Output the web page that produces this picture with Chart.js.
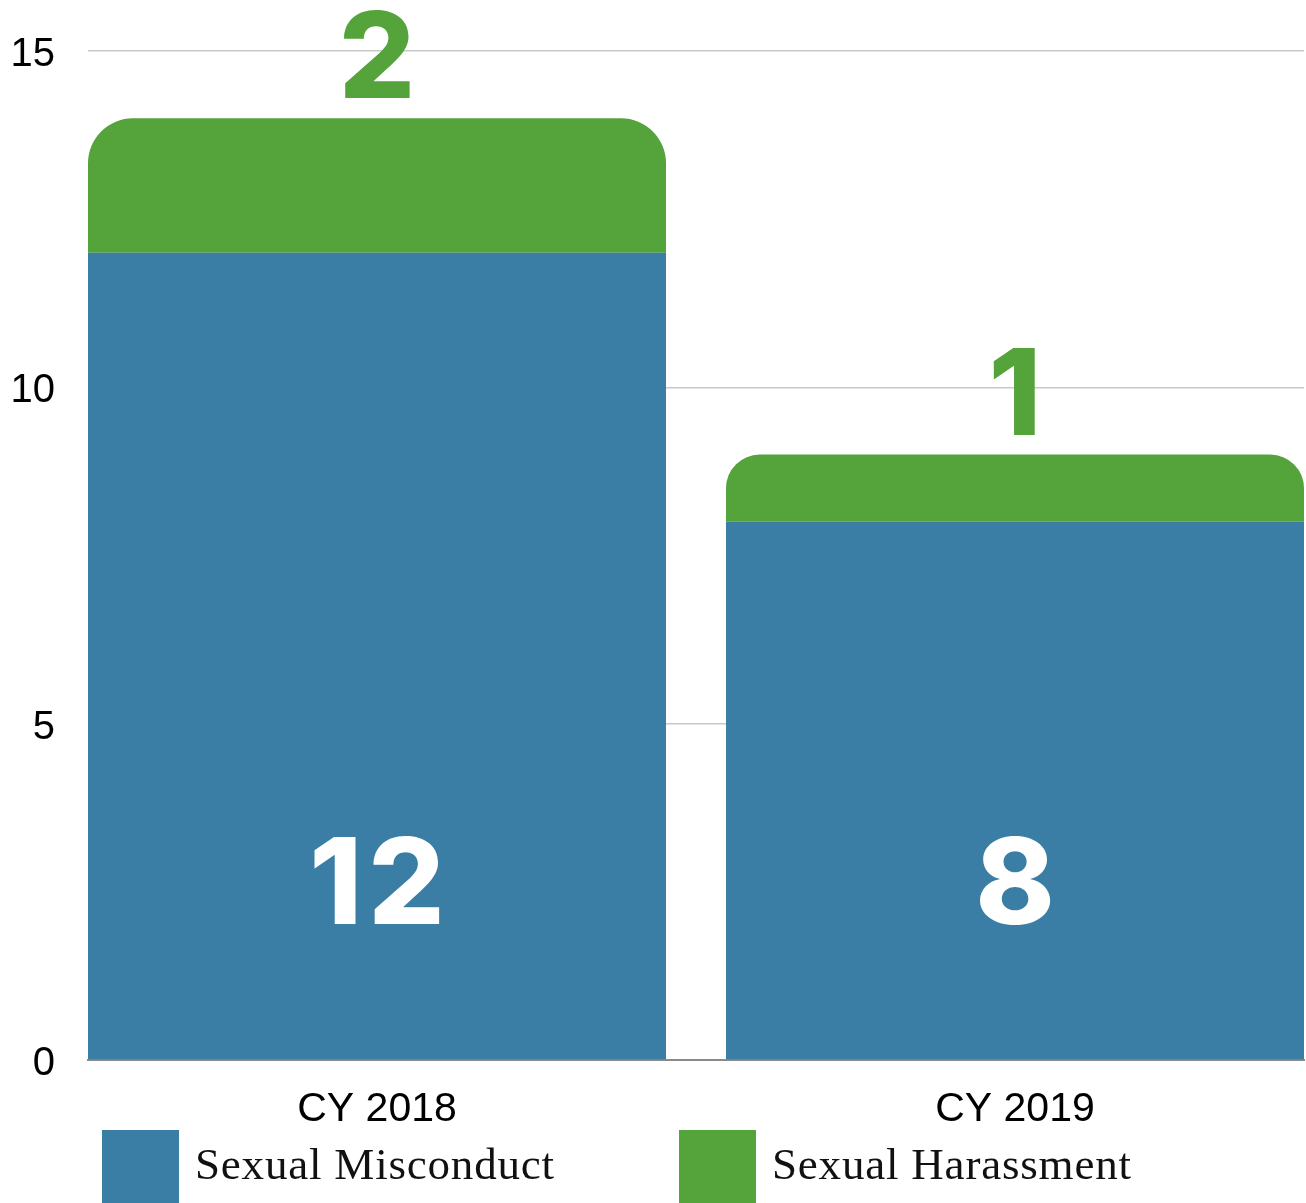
<!DOCTYPE html>
<html>
<head>
<meta charset="utf-8">
<script src="https://cdn.jsdelivr.net/npm/chart.js@4.4.0/dist/chart.umd.min.js"></script>
<style>
  html, body { margin: 0; padding: 0; background: #fff; }
  #wrap { position: relative; width: 1306px; height: 1203px; overflow: hidden; }
  #legend { position: absolute; left: 0; top: 1130px; width: 1306px; height: 80px; }
  .item { position: absolute; top: 0; height: 76px; }
  .box { position: absolute; left: 0; top: 0; width: 77px; height: 76px; }
  .lbl { position: absolute; left: 93px; top: 12px; white-space: nowrap; line-height: 1;
         font-family: "Liberation Serif", serif; font-size: 45px; letter-spacing: 0.8px; color: #111; }
</style>
</head>
<body>
<div id="wrap">
  <canvas id="myChart" width="1306" height="1203"></canvas>
  <div id="legend"></div>
</div>
<script>
const categories = ["CY 2018", "CY 2019"];
const misconduct = [12, 8];
const harassment = [2, 1];
const yTicks = [0, 5, 10, 15];

const blue = "#3b7ea5";
const green = "#54a33b";

// bar value labels
const valueLabels = {
  id: "valueLabels",
  afterDatasetsDraw(chart) {
    const ctx = chart.ctx;
    ctx.save();
    ctx.textAlign = "center";
    ctx.textBaseline = "alphabetic";
    ctx.font = "800 120px Inter, sans-serif";
    ctx.letterSpacing = "6px";
    const values = [misconduct, harassment];
    chart.data.datasets.forEach((ds, di) => {
      const meta = chart.getDatasetMeta(di);
      meta.data.forEach((bar, i) => {
        if (di === 0) {
          ctx.fillStyle = "#fff";
          ctx.fillText(values[di][i], bar.x + 3, bar.base - 135);
        } else {
          ctx.fillStyle = green;
          ctx.fillText(values[di][i], bar.x + 3, bar.y - 20);
        }
      });
    });
    ctx.restore();
  }
};

let ctx = document.getElementById("myChart");
let myChart = new Chart(ctx, {
  type: "bar",
  data: {
    datasets: [
      {
        label: "Sexual Misconduct",
        data: misconduct.map((v, i) => ({ x: i, y: v })),
        backgroundColor: blue,
        borderWidth: 0,
        categoryPercentage: 1,
        barPercentage: 0.906
      },
      {
        label: "Sexual Harassment",
        data: harassment.map((v, i) => ({ x: i, y: v })),
        backgroundColor: green,
        borderWidth: 0,
        borderSkipped: false,
        borderRadius: { topLeft: 45, topRight: 45, bottomLeft: 0, bottomRight: 0 },
        categoryPercentage: 1,
        barPercentage: 0.906
      }
    ]
  },
  options: {
    responsive: false,
    animation: false,
    layout: { padding: { top: 51, right: 2, left: 0, bottom: 0 } },
    plugins: { legend: { display: false }, tooltip: { enabled: false } },
    scales: {
      x: {
        type: "linear",
        stacked: true,
        offset: false,
        min: -0.453,
        max: 1.453,
        afterFit: (s) => { s.height = 143; },
        afterBuildTicks: (s) => { s.ticks = categories.map((c, i) => ({ value: i })); },
        grid: { display: false, drawTicks: false, offset: false },
        border: { color: "#8a8a8a", width: 2 },
        ticks: {
          padding: 25,
          color: "#000",
          font: { family: "Liberation Sans, Arial, sans-serif", size: 41 },
          callback: (v) => categories[v]
        }
      },
      y: {
        stacked: true,
        min: 0,
        max: 15,
        afterFit: (s) => { s.width = 88; },
        afterBuildTicks: (s) => { s.ticks = yTicks.map((v) => ({ value: v })); },
        grid: { color: "#c8c8c8", lineWidth: 1.5, drawTicks: false },
        border: { display: false },
        ticks: {
          padding: 33,
          labelOffset: 4,
          color: "#000",
          font: { family: "Liberation Sans, Arial, sans-serif", size: 40, lineHeight: 0.2 }
        }
      }
    }
  },
  plugins: [valueLabels]
});

// html legend from the datasets
const legendEl = document.getElementById("legend");
const legendX = [102, 679];
myChart.data.datasets.forEach((ds, i) => {
  const item = document.createElement("div");
  item.className = "item";
  item.style.left = legendX[i] + "px";
  item.innerHTML = '<div class="box" style="background:' + ds.backgroundColor + '"></div>' +
    '<div class="lbl">' + ds.label + '</div>';
  legendEl.appendChild(item);
});
</script>
</body>
</html>
